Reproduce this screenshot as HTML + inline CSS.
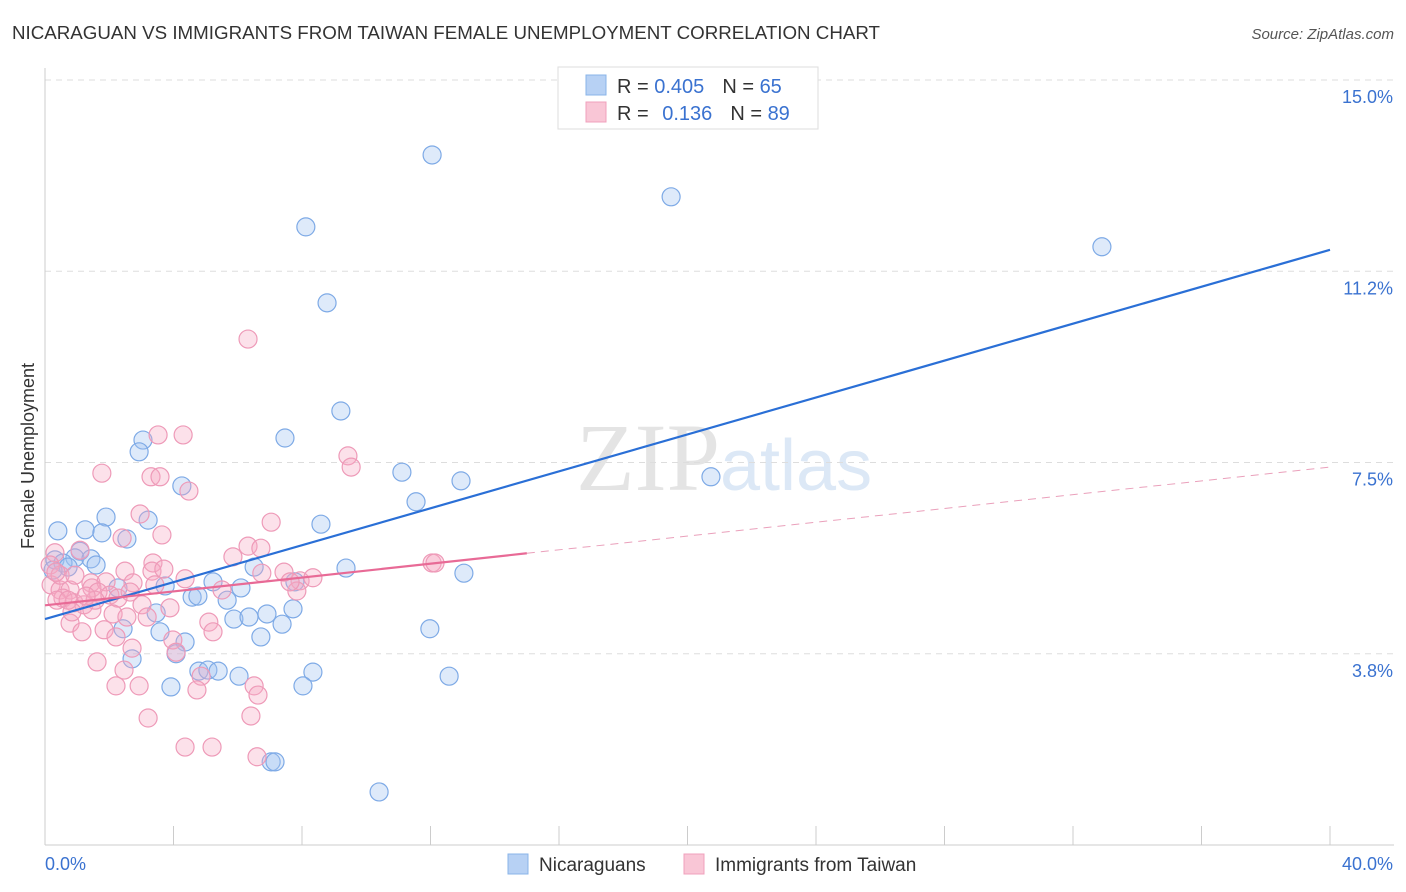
<!DOCTYPE html>
<html><head><meta charset="utf-8">
<style>
body{margin:0;background:#fff;font-family:"Liberation Sans",sans-serif;}
svg{display:block}
</style></head>
<body>
<svg id="chart" width="1406" height="892">
<text x="12" y="39" font-size="18" fill="#333" textLength="868" lengthAdjust="spacingAndGlyphs">NICARAGUAN VS IMMIGRANTS FROM TAIWAN FEMALE UNEMPLOYMENT CORRELATION CHART</text>
<text x="1394" y="39" font-size="15" fill="#555" font-style="italic" text-anchor="end">Source: ZipAtlas.com</text>
<text x="720" y="490" font-size="96" font-family="Liberation Serif,serif" fill="#e4e4e4" text-anchor="end">ZIP</text>
<text x="720" y="490" font-size="72" fill="#dce8f6">atlas</text>
<g id="grid"></g>
<g id="axes"></g>
<g id="marks"></g>
<g id="lines"></g>
<text transform="translate(34,456) rotate(-90)" font-size="18" fill="#333" text-anchor="middle">Female Unemployment</text>
<g>
<rect x="558" y="67" width="260" height="62" fill="#fff" stroke="#ddd"/>
<rect x="586" y="75" width="20" height="20" fill="#b7d1f4" stroke="#8ab4e8"/>
<rect x="586" y="102" width="20" height="20" fill="#f9c6d6" stroke="#f0a0bc"/>
<text x="617" y="93" font-size="20" fill="#333">R = <tspan fill="#3a72d0">0.405</tspan><tspan dx="18">N = </tspan><tspan fill="#3a72d0">65</tspan></text>
<text x="617" y="120" font-size="20" fill="#333">R = <tspan fill="#3a72d0" dx="8">0.136</tspan><tspan dx="18">N = </tspan><tspan fill="#3a72d0">89</tspan></text>
</g>
<g>
<rect x="508" y="854" width="20" height="20" fill="#b7d1f4" stroke="#8ab4e8"/>
<text x="539" y="871" font-size="19" fill="#333">Nicaraguans</text>
<rect x="684" y="854" width="20" height="20" fill="#f9c6d6" stroke="#f0a0bc"/>
<text x="715" y="871" font-size="19" fill="#333">Immigrants from Taiwan</text>
</g>
</svg>
<script>
const yTicks=[15.0,11.25,7.5,3.75];
const yTickLabels=["15.0%","11.2%","7.5%","3.8%"];
const xTickVals=[0,4,8,12,16,20,24,28,32,36,40];
const blueX=[12.05,19.49,32.90,8.12,8.78,9.21,7.47,3.05,2.93,4.26,11.11,12.95,11.55,20.73,8.59,1.90,3.21,0.40,1.25,1.77,2.55,1.09,0.93,1.43,1.59,0.31,0.56,0.72,0.25,9.37,13.04,6.51,5.23,6.10,3.74,7.78,4.58,4.76,5.67,2.27,3.46,5.88,6.35,6.91,7.72,7.38,11.98,2.43,3.58,4.36,6.72,4.08,2.71,4.79,5.07,5.39,6.04,8.34,12.58,3.92,8.03,7.04,7.16,10.40];
const blueY=[13.53,12.71,11.73,12.12,10.63,8.51,7.98,7.94,7.71,7.04,7.31,7.14,6.73,7.22,6.29,6.43,6.37,6.16,6.18,6.12,6.00,5.76,5.63,5.61,5.49,5.59,5.53,5.45,5.39,5.43,5.33,5.45,5.16,5.04,5.08,5.16,4.86,4.88,4.80,5.04,4.55,4.43,4.47,4.53,4.63,4.33,4.24,4.24,4.18,3.98,4.08,3.75,3.65,3.41,3.43,3.41,3.31,3.39,3.31,3.10,3.12,1.63,1.63,1.04];
const pinkX=[6.32,4.30,3.52,9.43,9.53,1.77,3.30,3.58,4.48,2.96,7.04,2.40,3.64,6.32,6.72,1.09,0.31,3.36,3.33,2.49,3.70,6.75,4.36,1.43,1.90,2.74,3.42,7.94,8.34,5.85,12.05,12.14,0.19,0.47,0.78,1.46,1.65,2.02,2.27,2.65,3.02,0.56,0.90,1.21,0.37,0.72,1.46,2.12,3.18,2.55,5.10,0.16,0.47,0.93,1.56,1.84,2.21,2.71,2.46,3.98,4.08,4.86,5.23,5.51,7.44,1.62,4.73,2.93,2.21,6.51,6.63,3.21,6.41,4.36,5.20,6.60,7.84,7.63,3.89,0.78,1.15,0.84,1.28,0.34];
const pinkY=[9.92,8.04,8.04,7.63,7.41,7.29,7.22,7.22,6.94,6.49,6.33,6.02,6.08,5.86,5.82,5.78,5.73,5.53,5.37,5.37,5.41,5.33,5.22,5.14,5.16,5.14,5.10,5.18,5.24,5.65,5.53,5.53,5.10,5.00,5.00,5.04,4.96,4.90,4.84,4.96,4.71,4.84,4.75,4.71,4.80,4.80,4.61,4.53,4.47,4.47,4.37,5.49,5.29,5.29,4.80,4.22,4.08,3.86,3.43,4.02,3.78,3.31,4.18,5.00,5.35,3.59,3.04,3.12,3.12,3.12,2.94,2.49,2.53,1.92,1.92,1.73,4.98,5.16,4.65,4.35,4.18,4.57,4.88,5.35];
const blueTrend=[[0,4.43],[40,11.67]];
const pinkTrend=[[0,4.70],[15,5.72]];
const pinkDash=[[15,5.72],[40,7.41]];
const NS="http://www.w3.org/2000/svg";
const X=v=>45+v*32.125, Y=v=>80+(15-v)*51.0;
function mk(t,a,p){const e=document.createElementNS(NS,t);for(const k in a)e.setAttribute(k,a[k]);document.getElementById(p).appendChild(e);return e;}
yTicks.forEach((t,i)=>{
 const g=mk('line',{x1:45,x2:1394,y1:Y(t),y2:Y(t),stroke:'#ddd','stroke-dasharray':'6,5'},'grid');
 
 
 const l=mk('text',{x:1393,y:Y(t)+23,'font-size':18,fill:'#3a72d0','text-anchor':'end'},'grid');
 l.textContent=yTickLabels[i];
 
 
});
const ax=mk('line',{x1:45,x2:1394,y1:845,y2:845,stroke:'#ccc'},'axes');


const ay=mk('line',{x1:45,x2:45,y1:68,y2:845,stroke:'#ccc'},'axes');


xTickVals.forEach(v=>{
 const t=mk('line',{x1:X(v),x2:X(v),y1:826,y2:845,stroke:'#ccc'},'axes');
 
 
});
const x0=mk('text',{x:45,y:870,'font-size':18,fill:'#3a72d0'},'axes');x0.textContent='0.0%';


const x1=mk('text',{x:1393,y:870,'font-size':18,fill:'#3a72d0','text-anchor':'end'},'axes');x1.textContent='40.0%';


blueX.forEach((v,i)=>{
 const c=mk('circle',{cx:X(v),cy:Y(blueY[i]),r:9,fill:'rgba(160,195,240,0.35)',stroke:'#7eaae6','stroke-width':1.2},'marks');
 
 
});
pinkX.forEach((v,i)=>{
 const c=mk('circle',{cx:X(v),cy:Y(pinkY[i]),r:9,fill:'rgba(245,170,195,0.35)',stroke:'#ee9ab8','stroke-width':1.2},'marks');
 
 
});
const bl=mk('line',{x1:X(blueTrend[0][0]),y1:Y(blueTrend[0][1]),x2:X(blueTrend[1][0]),y2:Y(blueTrend[1][1]),stroke:'#2a6fd6','stroke-width':2.2},'lines');


const pl=mk('line',{x1:X(pinkTrend[0][0]),y1:Y(pinkTrend[0][1]),x2:X(pinkTrend[1][0]),y2:Y(pinkTrend[1][1]),stroke:'#e86a96','stroke-width':2.2},'lines');


const pd=mk('line',{x1:X(pinkDash[0][0]),y1:Y(pinkDash[0][1]),x2:X(pinkDash[1][0]),y2:Y(pinkDash[1][1]),stroke:'#eaa0bb','stroke-width':1,'stroke-dasharray':'8,6'},'lines');


</script>
</body></html>
